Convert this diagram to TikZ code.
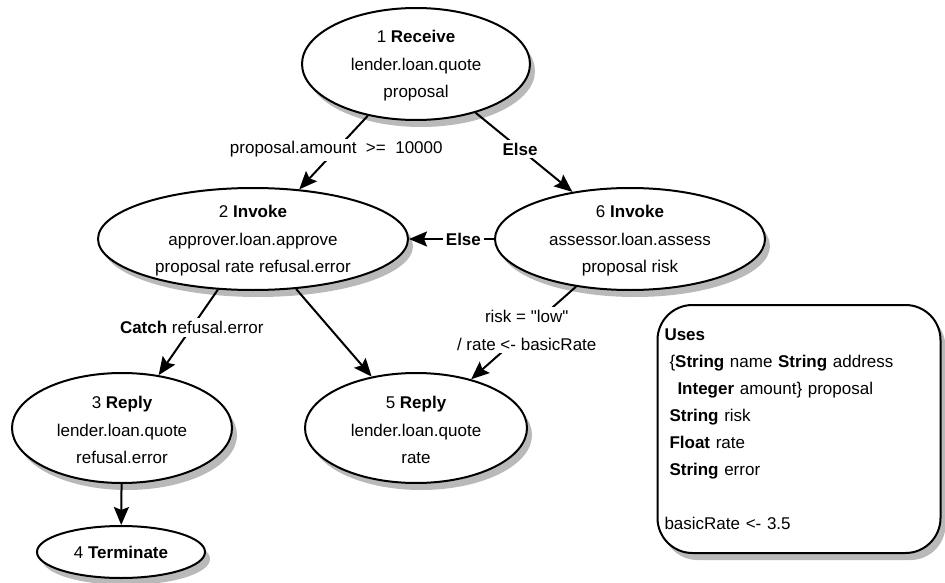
\documentclass[tikz,border=0pt]{standalone}
\usepackage{fontspec}
\setmainfont{Liberation Sans}
\usetikzlibrary{shapes.geometric,arrows.meta}

\definecolor{shadowgray}{RGB}{185,185,185}

\begin{document}
\begin{tikzpicture}[x=1pt,y=-1pt,
  every node/.style={font=\fontsize{17}{27.5}\selectfont},
  shadowfill/.style={fill=shadowgray,draw=none},
  state/.style={ellipse,draw,line width=2pt,fill=white,inner sep=0pt},
  body/.style={align=center,yshift=-2pt},
  flow/.style={line width=2pt,-{Stealth[length=18pt,width=15pt,inset=3pt]}},
  lbl/.style={fill=white,inner sep=3pt,align=center},
  usesbox/.style={draw,line width=2pt,fill=white,rounded corners=35pt,
    minimum width=283pt,minimum height=248pt,text width=269pt,inner xsep=7pt,align=left,
    font=\fontsize{17}{27}\selectfont}]
\useasboundingbox (0,0) rectangle (945,583);

% drop shadows, drawn first so the shapes sit on top of them
\fill[shadowfill] (421,71) ellipse [x radius=114, y radius=56];
\fill[shadowfill] (258,246) ellipse [x radius=155, y radius=51];
\fill[shadowfill] (635,246) ellipse [x radius=135, y radius=51];
\fill[shadowfill] (127,435) ellipse [x radius=110, y radius=55];
\fill[shadowfill] (421,435) ellipse [x radius=111, y radius=55];
\fill[shadowfill] (126,559) ellipse [x radius=84, y radius=26];
\fill[shadowfill,rounded corners=35pt] (662.5,312) rectangle (945.5,560);

% activity states
\node[state,minimum width=228pt,minimum height=112pt,
  label={[body]center:1 \textbf{Receive}\\lender.loan.quote\\proposal}] (n1) at (416,64) {};
\node[state,minimum width=310pt,minimum height=102pt,
  label={[body]center:2 \textbf{Invoke}\\approver.loan.approve\\proposal rate refusal.error}] (n2) at (253,239) {};
\node[state,minimum width=270pt,minimum height=102pt,
  label={[body]center:6 \textbf{Invoke}\\assessor.loan.assess\\proposal risk}] (n6) at (630,239) {};
\node[state,minimum width=220pt,minimum height=110pt,
  label={[body]center:3 \textbf{Reply}\\lender.loan.quote\\refusal.error}] (n3) at (122,428) {};
\node[state,minimum width=222pt,minimum height=110pt,
  label={[body]center:5 \textbf{Reply}\\lender.loan.quote\\rate}] (n5) at (416,428) {};
\node[state,minimum width=168pt,minimum height=52pt,
  label={[align=center]center:4 \textbf{Terminate}}] (n4) at (121,552) {};

% declarations
\node[usesbox] (uses) at (799,429) {\textbf{Uses}\\
\hspace*{5pt}\{\textbf{String} name \textbf{String} address\\
\hspace*{13pt}\textbf{Integer} amount\} proposal\\
\hspace*{5pt}\textbf{String} risk\\
\hspace*{5pt}\textbf{Float} rate\\
\hspace*{5pt}\textbf{String} error\\
\mbox{}\\
basicRate <- 3.5};

% transitions
\draw[flow] (n1) -- node[lbl,pos=.46] {proposal.amount\ \ >=\ \ 10000} (n2);
\draw[flow] (n1) -- node[lbl,pos=.46] {\textbf{Else}} (n6);
\draw[flow] (n6) -- node[lbl,pos=.36] {\textbf{Else}} (n2);
\draw[flow] (n2) -- node[lbl,pos=.44] {\textbf{Catch} refusal.error} (n3);
\draw[flow] (n2) -- (n5);
\draw[flow] (n6) -- node[lbl,pos=.47] {risk = \textquotedbl low\textquotedbl\\/ rate <- basicRate} (n5);
\draw[flow] (n3) -- (n4);
\end{tikzpicture}
\end{document}
